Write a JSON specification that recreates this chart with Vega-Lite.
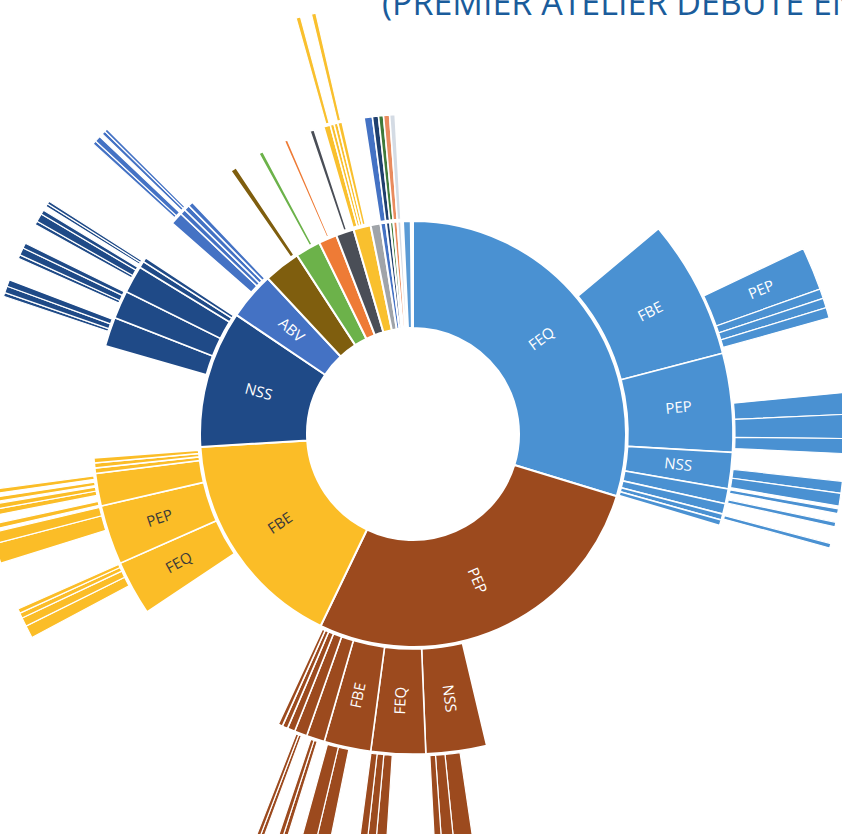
{
  "$schema": "https://vega.github.io/schema/vega-lite/v6.json",
  "width": 826,
  "height": 800,
  "autosize": {"type": "none"},
  "padding": {"left": 0, "top": 34, "right": 16, "bottom": 0},
  "background": "#ffffff",
  "config": {"view": {"stroke": null}},
  "title": {
    "text": "(PREMIER ATELIER DÉBUTÉ EN",
    "anchor": "start",
    "frame": "group",
    "dx": 382,
    "dy": 47,
    "offset": 0,
    "baseline": "alphabetic",
    "font": "Open Sans",
    "fontSize": 34,
    "fontWeight": "normal",
    "color": "#1A5C9B"
  },
  "datasets": {
    "ring1": [
      {"i": 1, "top": "FEQ", "id": "FEQ", "v": 107, "label": "FEQ"},
      {"i": 2, "top": "PEP", "id": "PEP", "v": 98.7, "label": "PEP"},
      {"i": 3, "top": "FBE", "id": "FBE", "v": 60.8, "label": "FBE"},
      {"i": 4, "top": "NSS", "id": "NSS", "v": 37.5, "label": "NSS"},
      {"i": 5, "top": "ABV", "id": "ABV", "v": 13, "label": "ABV"},
      {"i": 6, "top": "A1", "id": "A1", "v": 10},
      {"i": 7, "top": "A2", "id": "A2", "v": 6.9},
      {"i": 8, "top": "A3", "id": "A3", "v": 5},
      {"i": 9, "top": "A4", "id": "A4", "v": 4.9},
      {"i": 10, "top": "A5", "id": "A5", "v": 4.7},
      {"i": 11, "top": "A6", "id": "A6", "v": 2.7},
      {"i": 12, "top": "A7", "id": "A7", "v": 1.5},
      {"i": 13, "top": "A8", "id": "A8", "v": 1.1},
      {"i": 14, "top": "A9", "id": "A9", "v": 0.9},
      {"i": 15, "top": "A10", "id": "A10", "v": 1.1},
      {"i": 16, "top": "A11", "id": "A11", "v": 1.0},
      {"i": 17, "top": "_", "id": "_", "v": 0.5},
      {"i": 18, "top": "A12", "id": "A12", "v": 2.1},
      {"i": 19, "top": "_", "id": "_", "v": 0.6}
    ],
    "ring2": [
      {"i": 1, "top": "_", "id": "_", "v": 50.1},
      {"i": 2, "top": "FEQ", "id": "FEQ>FBE", "v": 25.3, "label": "FBE"},
      {"i": 3, "top": "FEQ", "id": "FEQ>PEP", "v": 17.9, "label": "PEP"},
      {"i": 4, "top": "FEQ", "id": "FEQ>NSS", "v": 6.6, "label": "NSS"},
      {"i": 5, "top": "FEQ", "id": "FEQ>s1", "v": 2.7},
      {"i": 6, "top": "FEQ", "id": "FEQ>s2", "v": 1.9},
      {"i": 7, "top": "FEQ", "id": "FEQ>s3", "v": 1.1},
      {"i": 8, "top": "FEQ", "id": "FEQ>s4", "v": 1.0},
      {"i": 9, "top": "_", "id": "_", "v": 60.1},
      {"i": 10, "top": "PEP", "id": "PEP>NSS", "v": 11.0, "label": "NSS"},
      {"i": 11, "top": "PEP", "id": "PEP>FEQ", "v": 9.9, "label": "FEQ"},
      {"i": 12, "top": "PEP", "id": "PEP>FBE", "v": 8.5, "label": "FBE"},
      {"i": 13, "top": "PEP", "id": "PEP>s1", "v": 3.3},
      {"i": 14, "top": "PEP", "id": "PEP>s2", "v": 2.3},
      {"i": 15, "top": "PEP", "id": "PEP>s3", "v": 1.4},
      {"i": 16, "top": "PEP", "id": "PEP>s4", "v": 1.0},
      {"i": 17, "top": "PEP", "id": "PEP>s5", "v": 0.8},
      {"i": 18, "top": "_", "id": "_", "v": 31.3},
      {"i": 19, "top": "FBE", "id": "FBE>FEQ", "v": 10.0, "label": "FEQ"},
      {"i": 20, "top": "FBE", "id": "FBE>PEP", "v": 10.8, "label": "PEP"},
      {"i": 21, "top": "FBE", "id": "FBE>s1", "v": 5.9},
      {"i": 22, "top": "FBE", "id": "FBE>s2", "v": 1.0},
      {"i": 23, "top": "FBE", "id": "FBE>s3", "v": 0.9},
      {"i": 24, "top": "FBE", "id": "FBE>s4", "v": 0.9},
      {"i": 25, "top": "_", "id": "_", "v": 20.3},
      {"i": 26, "top": "NSS", "id": "NSS>s1", "v": 5.3},
      {"i": 27, "top": "NSS", "id": "NSS>s2", "v": 5.1},
      {"i": 28, "top": "NSS", "id": "NSS>s3", "v": 5.0},
      {"i": 29, "top": "NSS", "id": "NSS>s4", "v": 1.2},
      {"i": 30, "top": "NSS", "id": "NSS>s5", "v": 0.8},
      {"i": 31, "top": "_", "id": "_", "v": 7.8},
      {"i": 32, "top": "ABV", "id": "ABV>s1", "v": 2.3},
      {"i": 33, "top": "ABV", "id": "ABV>s2", "v": 1.0},
      {"i": 34, "top": "ABV", "id": "ABV>s3", "v": 1.0},
      {"i": 35, "top": "ABV", "id": "ABV>s4", "v": 0.9},
      {"i": 36, "top": "_", "id": "_", "v": 8.9},
      {"i": 37, "top": "A1", "id": "A1>s1", "v": 1.1},
      {"i": 38, "top": "_", "id": "_", "v": 4.8},
      {"i": 39, "top": "A2", "id": "A2>s1", "v": 0.8},
      {"i": 40, "top": "_", "id": "_", "v": 4.3},
      {"i": 41, "top": "A3", "id": "A3>s1", "v": 0.6},
      {"i": 42, "top": "_", "id": "_", "v": 4.3},
      {"i": 43, "top": "A4", "id": "A4>s1", "v": 0.8},
      {"i": 44, "top": "_", "id": "_", "v": 1.8},
      {"i": 45, "top": "A5", "id": "A5>s1", "v": 1.2},
      {"i": 46, "top": "A5", "id": "A5>s2", "v": 0.7},
      {"i": 47, "top": "A5", "id": "A5>s3", "v": 0.7},
      {"i": 48, "top": "A5", "id": "A5>s4", "v": 0.8},
      {"i": 49, "top": "_", "id": "_", "v": 4.0},
      {"i": 50, "top": "A7", "id": "A7>s1", "v": 1.5},
      {"i": 51, "top": "A8", "id": "A8>s1", "v": 1.1},
      {"i": 52, "top": "A9", "id": "A9>s1", "v": 0.9},
      {"i": 53, "top": "A10", "id": "A10>s1", "v": 1.1},
      {"i": 54, "top": "A11", "id": "A11>s1", "v": 1.0},
      {"i": 55, "top": "_", "id": "_", "v": 3.2}
    ],
    "ring3": [
      {"i": 1, "top": "_", "id": "_", "v": 64.6},
      {"i": 2, "top": "FEQ", "id": "FEQ>FBE>PEP", "v": 5.8, "label": "PEP"},
      {"i": 3, "top": "FEQ", "id": "FEQ>FBE>x1", "v": 1.3},
      {"i": 4, "top": "FEQ", "id": "FEQ>FBE>x2", "v": 1.3},
      {"i": 5, "top": "FEQ", "id": "FEQ>FBE>x3", "v": 1.4},
      {"i": 6, "top": "_", "id": "_", "v": 10.1},
      {"i": 7, "top": "FEQ", "id": "FEQ>PEP>x1", "v": 2.9},
      {"i": 8, "top": "FEQ", "id": "FEQ>PEP>x2", "v": 3.2},
      {"i": 9, "top": "FEQ", "id": "FEQ>PEP>x3", "v": 2.0},
      {"i": 10, "top": "_", "id": "_", "v": 3.7},
      {"i": 11, "top": "FEQ", "id": "FEQ>NSS>x1", "v": 1.6},
      {"i": 12, "top": "FEQ", "id": "FEQ>NSS>x2", "v": 1.7},
      {"i": 13, "top": "_", "id": "_", "v": 0.4},
      {"i": 14, "top": "FEQ", "id": "FEQ>s1>x1", "v": 0.6},
      {"i": 15, "top": "_", "id": "_", "v": 1.2},
      {"i": 16, "top": "FEQ", "id": "FEQ>s1>x2", "v": 0.6},
      {"i": 17, "top": "_", "id": "_", "v": 2.3},
      {"i": 18, "top": "FEQ", "id": "FEQ>s3>x1", "v": 0.6},
      {"i": 19, "top": "_", "id": "_", "v": 66.3},
      {"i": 20, "top": "PEP", "id": "PEP>NSS>x1", "v": 2.7},
      {"i": 21, "top": "PEP", "id": "PEP>NSS>x2", "v": 1.7},
      {"i": 22, "top": "PEP", "id": "PEP>NSS>x3", "v": 1.0},
      {"i": 23, "top": "_", "id": "_", "v": 6.7},
      {"i": 24, "top": "PEP", "id": "PEP>FEQ>x1", "v": 1.5},
      {"i": 25, "top": "PEP", "id": "PEP>FEQ>x2", "v": 1.2},
      {"i": 26, "top": "PEP", "id": "PEP>FEQ>x3", "v": 1.1},
      {"i": 27, "top": "_", "id": "_", "v": 4.0},
      {"i": 28, "top": "PEP", "id": "PEP>FBE>x1", "v": 1.9},
      {"i": 29, "top": "PEP", "id": "PEP>FBE>x2", "v": 2.0},
      {"i": 30, "top": "_", "id": "_", "v": 1.9},
      {"i": 31, "top": "PEP", "id": "PEP>s1>x1", "v": 0.6},
      {"i": 32, "top": "PEP", "id": "PEP>s1>x2", "v": 0.6},
      {"i": 33, "top": "_", "id": "_", "v": 1.8},
      {"i": 34, "top": "PEP", "id": "PEP>s2>x1", "v": 0.5},
      {"i": 35, "top": "PEP", "id": "PEP>s2>x2", "v": 0.5},
      {"i": 36, "top": "_", "id": "_", "v": 40.6},
      {"i": 37, "top": "FBE", "id": "FBE>FEQ>x1", "v": 1.7},
      {"i": 38, "top": "FBE", "id": "FBE>FEQ>x2", "v": 1.2},
      {"i": 39, "top": "FBE", "id": "FBE>FEQ>x3", "v": 0.7},
      {"i": 40, "top": "FBE", "id": "FBE>FEQ>x4", "v": 0.6},
      {"i": 41, "top": "_", "id": "_", "v": 6.5},
      {"i": 42, "top": "FBE", "id": "FBE>PEP>x1", "v": 2.7},
      {"i": 43, "top": "FBE", "id": "FBE>PEP>x2", "v": 1.5},
      {"i": 44, "top": "_", "id": "_", "v": 0.4},
      {"i": 45, "top": "FBE", "id": "FBE>s1>x1", "v": 0.7},
      {"i": 46, "top": "_", "id": "_", "v": 1.1},
      {"i": 47, "top": "FBE", "id": "FBE>s1>x2", "v": 0.8},
      {"i": 48, "top": "FBE", "id": "FBE>s1>x3", "v": 0.7},
      {"i": 49, "top": "_", "id": "_", "v": 0.3},
      {"i": 50, "top": "FBE", "id": "FBE>s1>x4", "v": 0.6},
      {"i": 51, "top": "_", "id": "_", "v": 0.5},
      {"i": 52, "top": "FBE", "id": "FBE>s1>x5", "v": 0.6},
      {"i": 53, "top": "_", "id": "_", "v": 26.1},
      {"i": 54, "top": "NSS", "id": "NSS>s1>x1", "v": 0.5},
      {"i": 55, "top": "NSS", "id": "NSS>s1>x2", "v": 0.9},
      {"i": 56, "top": "NSS", "id": "NSS>s1>x3", "v": 0.9},
      {"i": 57, "top": "_", "id": "_", "v": 3.1},
      {"i": 58, "top": "NSS", "id": "NSS>s2>x1", "v": 0.5},
      {"i": 59, "top": "NSS", "id": "NSS>s2>x2", "v": 1.0},
      {"i": 60, "top": "NSS", "id": "NSS>s2>x3", "v": 0.7},
      {"i": 61, "top": "_", "id": "_", "v": 2.8},
      {"i": 62, "top": "NSS", "id": "NSS>s3>x1", "v": 0.5},
      {"i": 63, "top": "NSS", "id": "NSS>s3>x2", "v": 1.1},
      {"i": 64, "top": "NSS", "id": "NSS>s3>x3", "v": 0.6},
      {"i": 65, "top": "_", "id": "_", "v": 0.6},
      {"i": 66, "top": "NSS", "id": "NSS>s4>x1", "v": 0.4},
      {"i": 67, "top": "NSS", "id": "NSS>s4>x2", "v": 0.4},
      {"i": 68, "top": "_", "id": "_", "v": 9.6},
      {"i": 69, "top": "ABV", "id": "ABV>s1>x1", "v": 0.5},
      {"i": 70, "top": "ABV", "id": "ABV>s1>x2", "v": 0.8},
      {"i": 71, "top": "_", "id": "_", "v": 0.5},
      {"i": 72, "top": "ABV", "id": "ABV>s2>x1", "v": 0.5},
      {"i": 73, "top": "ABV", "id": "ABV>s3>x1", "v": 0.4},
      {"i": 74, "top": "_", "id": "_", "v": 29.4},
      {"i": 75, "top": "A5", "id": "A5>s1>x1", "v": 0.6},
      {"i": 76, "top": "_", "id": "_", "v": 1.5},
      {"i": 77, "top": "A5", "id": "A5>s4>x1", "v": 0.6},
      {"i": 78, "top": "_", "id": "_", "v": 13.0}
    ]
  },
  "encoding": {
    "theta": {"field": "v", "type": "quantitative", "stack": true, "scale": {"domain": [0, 360]}},
    "order": {"field": "i", "type": "quantitative"}
  },
  "layer": [
    {
      "data": {"name": "ring1"},
      "mark": {"type": "arc", "radius": 213, "radius2": 106, "stroke": "#ffffff", "strokeWidth": 2},
      "encoding": {
        "color": {"field": "top", "type": "nominal", "legend": null,
          "scale": {"domain": ["FEQ", "PEP", "FBE", "NSS", "ABV", "A1", "A2", "A3", "A4", "A5", "A6", "A7", "A8", "A9", "A10", "A11", "A12", "_"],
                    "range": ["#4A91D2", "#9C4A1E", "#FBBD27", "#1F4A87", "#4472C4", "#7F5E0E", "#6CB24A", "#EE7B36", "#4A4E57", "#F9C02E", "#A0A4A9", "#4472C4", "#1F3F6E", "#3F7A3A", "#E98B5E", "#D4DBE4", "#5B9BD5", "#ffffff"]}},
        "opacity": {"condition": {"test": "datum.top === '_'", "value": 0}, "value": 1}
      }
    },
    {
      "data": {"name": "ring2"},
      "mark": {"type": "arc", "radius": 320, "radius2": 215, "stroke": "#ffffff", "strokeWidth": 1.6},
      "encoding": {
        "color": {"field": "top", "type": "nominal", "legend": null},
        "opacity": {"condition": {"test": "datum.top === '_'", "value": 0}, "value": 1}
      }
    },
    {
      "data": {"name": "ring3"},
      "mark": {"type": "arc", "radius": 432, "radius2": 322, "stroke": "#ffffff", "strokeWidth": 1.2},
      "encoding": {
        "color": {"field": "top", "type": "nominal", "legend": null},
        "opacity": {"condition": {"test": "datum.top === '_'", "value": 0}, "value": 1}
      }
    },
    {
      "data": {"name": "ring1"},
      "mark": {"type": "text", "radius": 160, "font": "Open Sans", "fontSize": 15, "align": "center", "baseline": "middle",
        "angle": {"expr": "(0.5*datum.v_start+0.5*datum.v_end) < 180 ? (0.5*datum.v_start+0.5*datum.v_end) - 90 : (0.5*datum.v_start+0.5*datum.v_end) - 270"}},
      "encoding": {
        "text": {"condition": {"test": "datum.label", "field": "label"}, "value": ""},
        "color": {"condition": {"test": "datum.top === 'FBE'", "value": "#3A3A3A"}, "value": "#ffffff"}
      }
    },
    {
      "data": {"name": "ring2"},
      "mark": {"type": "text", "radius": 267, "font": "Open Sans", "fontSize": 15, "align": "center", "baseline": "middle",
        "angle": {"expr": "(0.5*datum.v_start+0.5*datum.v_end) < 180 ? (0.5*datum.v_start+0.5*datum.v_end) - 90 : (0.5*datum.v_start+0.5*datum.v_end) - 270"}},
      "encoding": {
        "text": {"condition": {"test": "datum.label", "field": "label"}, "value": ""},
        "color": {"condition": {"test": "datum.top === 'FBE'", "value": "#3A3A3A"}, "value": "#ffffff"}
      }
    },
    {
      "data": {"name": "ring3"},
      "mark": {"type": "text", "radius": 377, "font": "Open Sans", "fontSize": 15, "align": "center", "baseline": "middle",
        "angle": {"expr": "(0.5*datum.v_start+0.5*datum.v_end) < 180 ? (0.5*datum.v_start+0.5*datum.v_end) - 90 : (0.5*datum.v_start+0.5*datum.v_end) - 270"}},
      "encoding": {
        "text": {"condition": {"test": "datum.label", "field": "label"}, "value": ""},
        "color": {"condition": {"test": "datum.top === 'FBE'", "value": "#3A3A3A"}, "value": "#ffffff"}
      }
    }
  ]
}
